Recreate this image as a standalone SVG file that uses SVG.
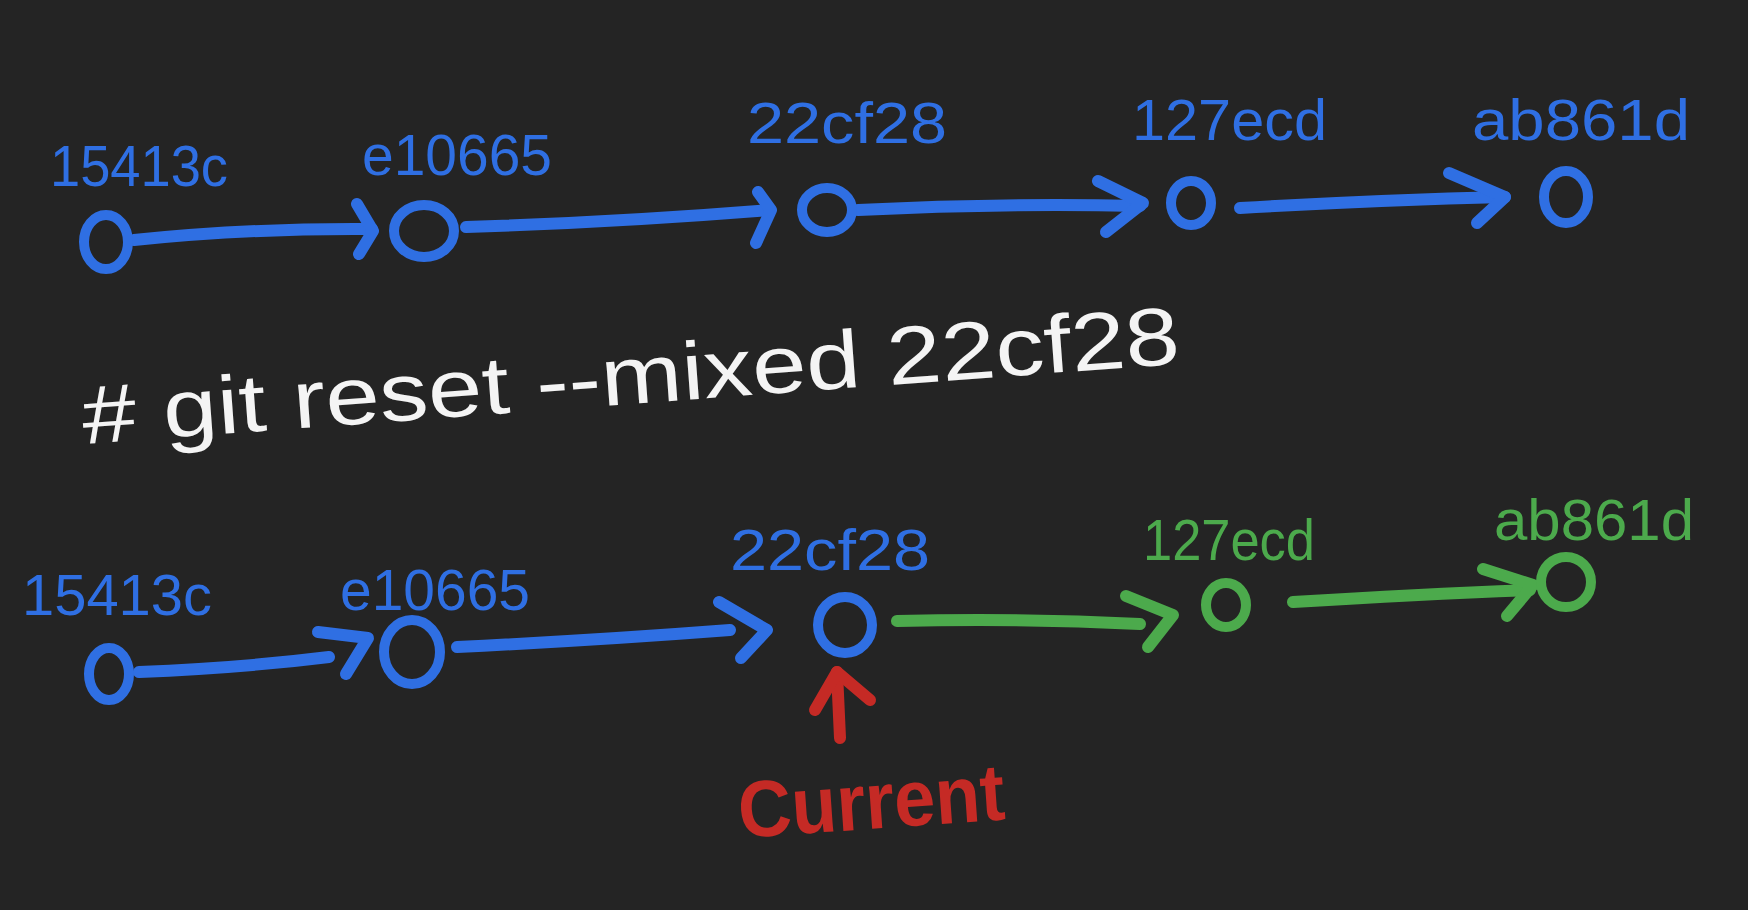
<svg xmlns="http://www.w3.org/2000/svg" width="1748" height="910" viewBox="0 0 1748 910">
<style>
.bg{fill:#242424}
.node{fill:none;stroke-width:10}
.blue{stroke:#2f6fe3}
.green{stroke:#4caa4c}
.conn{fill:none;stroke-width:12;stroke-linecap:round;stroke-linejoin:round}
.lbl{font-family:"Liberation Sans","DejaVu Sans",sans-serif;font-size:58px}
.lb{fill:#2f6fe3}
.lg{fill:#4caa4c}
.cmd{font-family:"Liberation Sans","DejaVu Sans",sans-serif;font-size:82px;fill:#f4f4f4}
.cur{font-family:"Liberation Sans","DejaVu Sans",sans-serif;font-size:80px;font-weight:bold;fill:#c52a25}
</style>
<rect class="bg" x="0" y="0" width="1748" height="910"/>

<g id="connectors">
  <path class="conn blue" d="M134,240 Q250,228 372,229"/>
  <path class="conn blue" d="M357,204 L373,231 L359,254"/>
  <path class="conn blue" d="M466,227 Q620,222 769,210"/>
  <path class="conn blue" d="M758,192 L771,210 L756,243"/>
  <path class="conn blue" d="M858,210 Q1000,203 1140,206"/>
  <path class="conn blue" d="M1098,181 L1143,203 L1106,232"/>
  <path class="conn blue" d="M1240,208 Q1380,200 1505,197"/>
  <path class="conn blue" d="M1449,173 L1505,197 L1477,223"/>

  <path class="conn blue" d="M139,672 Q240,668 329,657"/>
  <path class="conn blue" d="M318,632 L368,638 L346,674"/>
  <path class="conn blue" d="M457,647 Q600,640 730,630"/>
  <path class="conn blue" d="M719,602 L767,630 L741,658"/>
  <path class="conn green" d="M897,621 Q1020,618 1140,624"/>
  <path class="conn green" d="M1126,596 L1173,615 L1148,647"/>
  <path class="conn green" d="M1293,602 Q1420,594 1530,590"/>
  <path class="conn green" d="M1483,569 L1533,585 L1507,616"/>

  <path class="conn" stroke="#c52a25" d="M840,738 L837,672"/>
  <path class="conn" stroke="#c52a25" d="M815,710 L837,672 L870,700"/>
</g>

<g id="top-15413c">
  <ellipse class="node blue" cx="106" cy="242" rx="22" ry="27"/>
  <text class="lbl lb" x="50" y="186" textLength="178" lengthAdjust="spacingAndGlyphs">15413c</text>
</g>
<g id="top-e10665">
  <ellipse class="node blue" cx="424" cy="231" rx="30" ry="26"/>
  <text class="lbl lb" x="362" y="175" textLength="190" lengthAdjust="spacingAndGlyphs">e10665</text>
</g>
<g id="top-22cf28">
  <ellipse class="node blue" cx="827" cy="210" rx="25" ry="22"/>
  <text class="lbl lb" x="747" y="143" textLength="200" lengthAdjust="spacingAndGlyphs">22cf28</text>
</g>
<g id="top-127ecd">
  <ellipse class="node blue" cx="1191" cy="203" rx="20" ry="22"/>
  <text class="lbl lb" x="1132" y="140" textLength="195" lengthAdjust="spacingAndGlyphs">127ecd</text>
</g>
<g id="top-ab861d">
  <ellipse class="node blue" cx="1566" cy="197" rx="22" ry="26"/>
  <text class="lbl lb" x="1472" y="140" textLength="218" lengthAdjust="spacingAndGlyphs">ab861d</text>
</g>

<g id="command">
  <text class="cmd" x="84" y="444" transform="rotate(-4.2 84 444)" textLength="1100" lengthAdjust="spacingAndGlyphs"># git reset --mixed 22cf28</text>
</g>

<g id="bottom-15413c">
  <ellipse class="node blue" cx="109" cy="674" rx="20" ry="26"/>
  <text class="lbl lb" x="22" y="615" textLength="190" lengthAdjust="spacingAndGlyphs">15413c</text>
</g>
<g id="bottom-e10665">
  <ellipse class="node blue" cx="412" cy="652" rx="28" ry="32"/>
  <text class="lbl lb" x="340" y="610" textLength="190" lengthAdjust="spacingAndGlyphs">e10665</text>
</g>
<g id="bottom-22cf28">
  <ellipse class="node blue" cx="845" cy="625" rx="27" ry="28"/>
  <text class="lbl lb" x="730" y="570" textLength="200" lengthAdjust="spacingAndGlyphs">22cf28</text>
</g>
<g id="bottom-127ecd">
  <ellipse class="node green" cx="1226" cy="605" rx="20" ry="22"/>
  <text class="lbl lg" x="1143" y="560" textLength="172" lengthAdjust="spacingAndGlyphs">127ecd</text>
</g>
<g id="bottom-ab861d">
  <ellipse class="node green" cx="1566" cy="582" rx="25" ry="25"/>
  <text class="lbl lg" x="1494" y="540" textLength="200" lengthAdjust="spacingAndGlyphs">ab861d</text>
</g>

<g id="current">
  <text class="cur" x="740" y="838" transform="rotate(-4 740 838)" textLength="267" lengthAdjust="spacingAndGlyphs">Current</text>
</g>
</svg>
